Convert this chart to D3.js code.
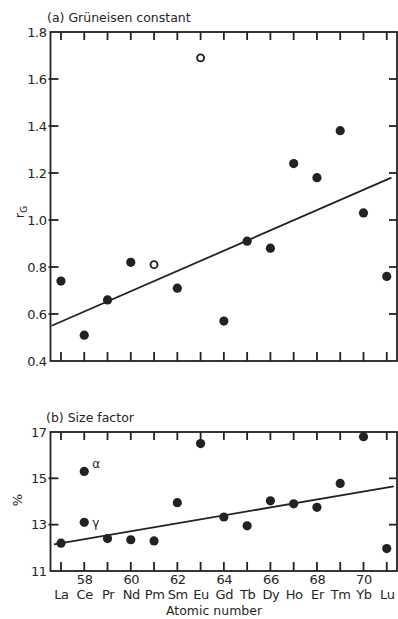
<!DOCTYPE html>
<html>
<head>
<meta charset="utf-8">
<script src="https://cdn.jsdelivr.net/npm/d3@7"></script>
<style>
  html, body { margin: 0; padding: 0; background: #fff; }
  svg { display: block; }
  text { font-family: "DejaVu Sans", sans-serif; fill: #262626; }
</style>
</head>
<body>
<svg id="chart" width="398" height="619"></svg>
<script>
// Lanthanide series, atomic numbers 57–71
const atomicNumbers = [57, 58, 59, 60, 61, 62, 63, 64, 65, 66, 67, 68, 69, 70, 71];
const elements = ["La", "Ce", "Pr", "Nd", "Pm", "Sm", "Eu", "Gd", "Tb", "Dy", "Ho", "Er", "Tm", "Yb", "Lu"];

// (a) Grüneisen constant; Pm and Eu are open symbols
const gruneisen = [0.74, 0.51, 0.66, 0.82, 0.81, 0.71, 1.69, 0.57, 0.91, 0.88, 1.24, 1.18, 1.38, 1.03, 0.76];
const gruneisenOpen = ["Pm", "Eu"];
const gruneisenFit = [[56.6, 0.55], [71.2, 1.18]];
const gruneisenTicks = [0.4, 0.6, 0.8, 1.0, 1.2, 1.4, 1.6, 1.8];

// (b) Size factor (%); Ce value is the α phase, γ phase listed separately
const sizeFactor = [12.2, 15.3, 12.4, 12.35, 12.3, 13.95, 16.5, 13.33, 12.95, 14.03, 13.9, 13.75, 14.78, 16.8, 11.97];
const sizeExtra = [{ z: 58, v: 13.1, label: "γ" }];
const sizeAlphaLabel = [{ z: 58, v: 15.3, label: "α" }];
const sizeFit = [[56.7, 12.15], [71.3, 14.65]];
const sizeTicks = [11, 13, 15, 17];

const numberedTicks = [58, 60, 62, 64, 66, 68, 70];

const svg = d3.select("#chart");
const ink = "#222";
const lw = 1.8;

const x = d3.scaleLinear().domain([56.55, 71.44]).range([50.5, 397]);
const yA = d3.scaleLinear().domain([0.4, 1.8]).range([361, 32]);
const yB = d3.scaleLinear().domain([11, 17]).range([571, 432]);

function frame(y, yTicks, fmt) {
  const [y0, y1] = y.range();
  const [x0, x1] = x.range();

  const left = svg.append("g").attr("transform", `translate(${x0},0)`)
    .call(d3.axisLeft(y).tickValues(yTicks).tickSize(0).tickPadding(4).tickFormat(fmt));
  left.select(".domain").remove();
  left.selectAll(".tick line").remove();
  left.selectAll(".tick text").attr("font-size", 13).attr("fill", "#262626")
    .attr("font-family", "DejaVu Sans, sans-serif").attr("letter-spacing", -0.5);

  svg.append("rect")
    .attr("x", x0).attr("y", y1).attr("width", x1 - x0).attr("height", y0 - y1)
    .attr("fill", "none").attr("stroke", ink).attr("stroke-width", lw);

  // inward tick marks on all four sides
  const inner = yTicks.slice(1, -1);
  const segs = []
    .concat(inner.map(v => [[x0 - 2, y(v)], [x0 + 8, y(v)]]))
    .concat(inner.map(v => [[x1, y(v)], [x1 - 8, y(v)]]))
    .concat(atomicNumbers.map(z => [[x(z), y0], [x(z), y0 - 9]]))
    .concat(atomicNumbers.map(z => [[x(z), y1], [x(z), y1 + 8]]));
  svg.append("g").selectAll("path").data(segs).join("path")
    .attr("d", d => `M${d[0][0]},${d[0][1]}L${d[1][0]},${d[1][1]}`)
    .attr("fill", "none").attr("stroke", ink).attr("stroke-width", lw);
}

// ---------- (a) Grüneisen constant ----------
frame(yA, gruneisenTicks, d3.format(".1f"));
svg.append("text").attr("x", 47).attr("y", 22).attr("font-size", 12.5).text("(a) Grüneisen constant");
const rg = svg.append("text").attr("transform", "translate(24,212) rotate(-90)")
  .attr("text-anchor", "middle").attr("font-size", 13);
rg.append("tspan").text("r");
rg.append("tspan").attr("font-size", 9).attr("dy", 3).text("G");

svg.append("path")
  .attr("d", d3.line().x(d => x(d[0])).y(d => yA(d[1]))(gruneisenFit))
  .attr("fill", "none").attr("stroke", ink).attr("stroke-width", lw);

svg.append("g").selectAll("circle")
  .data(atomicNumbers.map((z, i) => ({ z, v: gruneisen[i], el: elements[i] })))
  .join("circle")
  .attr("cx", d => x(d.z)).attr("cy", d => yA(d.v))
  .attr("r", d => gruneisenOpen.includes(d.el) ? 3.5 : 4.6)
  .attr("fill", d => gruneisenOpen.includes(d.el) ? "#fff" : ink)
  .attr("stroke", ink)
  .attr("stroke-width", d => gruneisenOpen.includes(d.el) ? 1.9 : 0);

// ---------- (b) Size factor ----------
frame(yB, sizeTicks, d3.format("d"));
svg.append("text").attr("x", 46).attr("y", 422).attr("font-size", 12.5).text("(b) Size factor");
svg.append("text").attr("transform", "translate(22,500) rotate(-90)")
  .attr("text-anchor", "middle").attr("font-size", 13).text("%");

svg.append("path")
  .attr("d", d3.line().x(d => x(d[0])).y(d => yB(d[1]))(sizeFit))
  .attr("fill", "none").attr("stroke", ink).attr("stroke-width", lw);

const sizePoints = atomicNumbers.map((z, i) => ({ z, v: sizeFactor[i] })).concat(sizeExtra);
svg.append("g").selectAll("circle")
  .data(sizePoints)
  .join("circle")
  .attr("cx", d => x(d.z)).attr("cy", d => yB(d.v))
  .attr("r", 4.6).attr("fill", ink);

svg.append("g").selectAll("text")
  .data(sizeAlphaLabel.concat(sizeExtra))
  .join("text")
  .attr("x", d => x(d.z) + 8)
  .attr("y", d => yB(d.v) + (d.label === "α" ? -3 : 5))
  .attr("font-size", 12).text(d => d.label);

// x labels: atomic numbers, element symbols, axis title
const xNum = svg.append("g").attr("transform", `translate(0,${yB.range()[0]})`)
  .call(d3.axisBottom(x).tickValues(numberedTicks).tickSize(0).tickPadding(4).tickFormat(d3.format("d")));
const xSym = svg.append("g").attr("transform", `translate(0,${yB.range()[0]})`)
  .call(d3.axisBottom(x).tickValues(atomicNumbers).tickSize(0).tickPadding(19)
    .tickFormat((d, i) => elements[i]));
[xNum, xSym].forEach(a => {
  a.select(".domain").remove();
  a.selectAll(".tick line").remove();
  a.selectAll(".tick text").attr("font-size", 13).attr("fill", "#262626")
    .attr("font-family", "DejaVu Sans, sans-serif").attr("letter-spacing", -0.4);
});
svg.append("text").attr("x", 214).attr("y", 615).attr("text-anchor", "middle")
  .attr("font-size", 12.5).text("Atomic number");
</script>
</body>
</html>
